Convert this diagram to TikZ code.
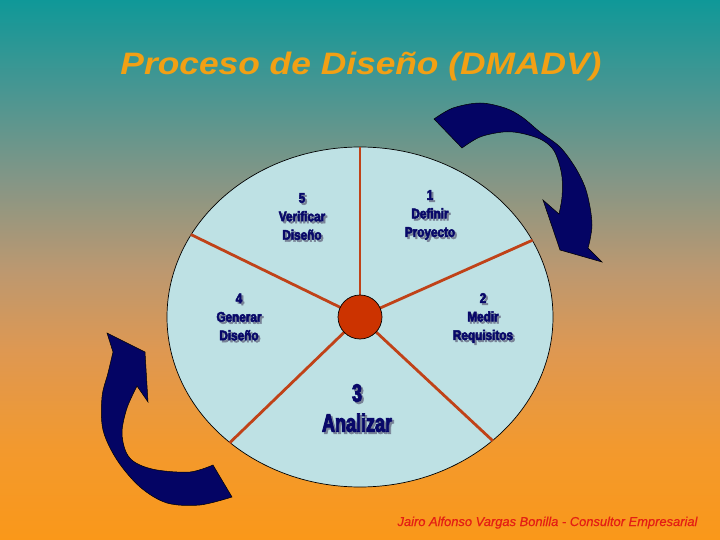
\documentclass[tikz,border=0pt]{standalone}
\usepackage{fontspec}
\setmainfont{Liberation Sans}
\newfontfamily\labfont[FakeStretch=0.84,FakeBold=3.5]{Liberation Sans Bold}
\newfontfamily\bigfont[FakeStretch=0.72,FakeBold=3.5]{Liberation Sans Bold}
\newfontfamily\titlefont[FakeStretch=1.14]{Liberation Sans Bold Italic}
\newfontfamily\footfont[FakeBold=0.4]{Liberation Sans Italic}
\usetikzlibrary{shapes.geometric}
\definecolor{bgA}{RGB}{250,152,25}
\definecolor{bgB}{RGB}{243,153,45}
\definecolor{bgC}{RGB}{222,152,82}
\definecolor{bgD}{RGB}{188,152,112}
\definecolor{bgE}{RGB}{132,150,134}
\definecolor{bgF}{RGB}{72,150,146}
\definecolor{bgG}{RGB}{15,152,152}
\definecolor{wheelfill}{RGB}{190,225,228}
\definecolor{spokecol}{RGB}{192,66,24}
\definecolor{hubcol}{RGB}{204,51,0}
\definecolor{navy}{RGB}{8,8,105}
\definecolor{shadowcol}{RGB}{120,130,150}
\definecolor{titlecol}{RGB}{242,160,20}
\definecolor{footcol}{RGB}{228,30,20}
\definecolor{arrowcol}{RGB}{4,4,100}
\newcommand\shl[1]{\leavevmode\rlap{\kern2pt\raisebox{-2pt}{\textcolor{shadowcol}{#1}}}#1}
\pgfdeclareverticalshading{bgshade}{100bp}{color(0bp)=(bgA); color(25bp)=(bgA); color(33.3bp)=(bgB); color(42.6bp)=(bgC); color(50bp)=(bgD); color(58.3bp)=(bgE); color(66.7bp)=(bgF); color(75bp)=(bgG); color(100bp)=(bgG)}
\tikzset{
  lab/.style={align=center, text=navy, inner sep=0pt, font=\labfont\fontsize{14}{18.5}\selectfont},
  biglab/.style={align=center, text=navy, inner sep=0pt, font=\bigfont\fontsize{25}{30}\selectfont},
  spoke/.style={draw=spokecol, line width=2.8pt},
  bigarrow/.style={fill=arrowcol, draw=black, line width=0.5pt, line join=miter}
}
\begin{document}
\begin{tikzpicture}[x=1pt, y=-1pt]
\useasboundingbox (0,0) rectangle (720,540);
\shade[shading=bgshade] (0,0) rectangle (720,540);
% title
\node[anchor=base, text=titlecol, inner sep=0pt, font=\titlefont\fontsize{31}{36}\selectfont] (title) at (361,75) {Proceso de Diseño (DMADV)};
% wheel
\node[ellipse, draw=black, line width=0.7pt, fill=wheelfill, minimum width=386pt, minimum height=340pt, inner sep=0pt] (wheel) at (360,317) {};
\coordinate (hc) at (360,317);
\draw[spoke] (hc) -- (wheel.90);
\draw[spoke] (hc) -- (wheel.24.9);
\draw[spoke] (hc) -- (wheel.-43.9);
\draw[spoke] (hc) -- (wheel.-136.1);
\draw[spoke] (hc) -- (wheel.154.9);
\node[circle, fill=hubcol, draw=black, line width=0.7pt, minimum size=44pt, inner sep=0pt] (hub) at (hc) {};
% labels with shadows
\node[lab] (l5) at (302,217.5) {\shl{5}\\\shl{Verificar}\\\shl{Diseño}};
\node[lab] (l1) at (430,216) {\shl{1}\\\shl{Definir}\\\shl{Proyecto}};
\node[lab] (l4) at (239,318) {\shl{4}\\\shl{Generar}\\\shl{Diseño}};
\node[lab] (l2) at (483,319) {\shl{2}\\\shl{Medir}\\\shl{Requisitos}};
\node[biglab] (l3) at (357,409) {\shl{3}\\\shl{Analizar}};
% top-right curved arrow
\draw[bigarrow] (434,119) -- plot[smooth, tension=0.55] coordinates {(434,119) (453,108) (480,103) (505,108) (522,117) (540,132) (560,147) (575,167) (585,187) (590,207) (592,225) (590,240) (588,248)} -- (602,262) -- (560,250) -- (543,200) -- (559,214) -- plot[smooth, tension=0.55] coordinates {(559,214) (562,197) (562,177) (558,160) (552,148) (540,139) (520,133) (503,132) (480,137) (462,148)} -- cycle;
% bottom-left curved arrow
\draw[bigarrow] (107,333) -- (145,352) -- (148,402) -- (137,386) -- plot[smooth, tension=0.55] coordinates {(137,386) (127,408) (122,432) (126,452) (136,463) (157,470) (190,472) (213,465)} -- (232,497) -- plot[smooth, tension=0.55] coordinates {(232,497) (200,505) (167,503) (140,487) (117,460) (103,430) (102,397) (108,373) (113,352)} -- cycle;
% footer
\node[anchor=base, text=footcol, inner sep=0pt, font=\footfont\fontsize{12.9}{15}\selectfont] (foot) at (547.5,526) {Jairo Alfonso Vargas Bonilla - Consultor Empresarial};
\end{tikzpicture}
\end{document}
